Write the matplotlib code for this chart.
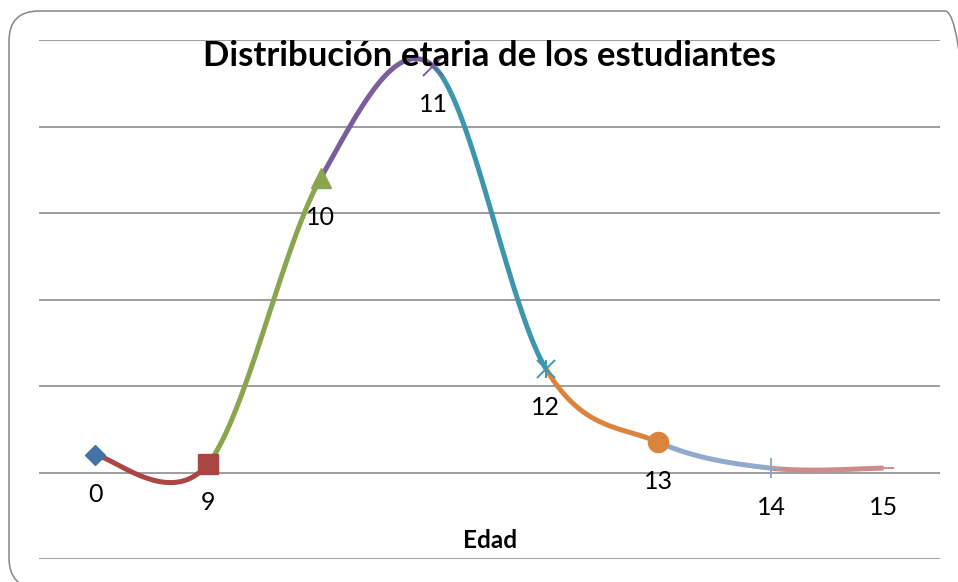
import numpy as np
import matplotlib
matplotlib.use("Agg")
import matplotlib.pyplot as plt
from matplotlib.patches import FancyBboxPatch
from matplotlib.transforms import IdentityTransform

plt.rcParams.update({"font.family": ["Lato", "DejaVu Sans"]})

# age groups and student counts
edades = ["0", "9", "10", "11", "12", "13", "14", "15"]
estudiantes = [4, 2, 68, 94, 24, 7, 1, 1]

# per-point styling ("vary colours by point"): segment into a point takes its colour
COLORS = ["#4572A7", "#AA4643", "#89A54E", "#7A5E9C", "#3D96AE", "#DB843D", "#92A8CD", "#CF8B8A"]
MARKERS = ["D", "s", "^", "x", "star", "o", "+", "_"]
GRID = "#8C8C8C"


def smooth_segments(y, n=60):
    """Cubic Bezier pieces between consecutive points (Catmull-Rom style tangents)."""
    x = np.arange(len(y), dtype=float)
    y = np.asarray(y, float)
    P = np.column_stack([x, y])
    t = np.linspace(0, 1, n)[:, None]
    segs = []
    for i in range(len(P) - 1):
        a = P[i - 1] if i > 0 else P[i]
        d = P[i + 2] if i + 2 < len(P) else P[i + 1]
        c1 = P[i] + (P[i + 1] - a) / 6.0
        c2 = P[i + 1] - (d - P[i]) / 6.0
        B = ((1 - t) ** 3) * P[i] + 3 * ((1 - t) ** 2) * t * c1 + 3 * (1 - t) * t ** 2 * c2 + t ** 3 * P[i + 1]
        segs.append(B)
    return segs


fig = plt.figure(figsize=(9.58, 5.82), dpi=100)
ax = fig.add_axes([39 / 958, 23 / 582, 901 / 958, 519 / 582])

ax.set_xlim(-0.5, len(edades) - 0.5)
ax.set_ylim(-20, 100)
for v in np.arange(-20, 101, 20):
    ax.axhline(v, color=GRID, lw=1.2, zorder=0)
for s in ax.spines.values():
    s.set_visible(False)
ax.set_xticks([]); ax.set_yticks([])

xs = np.arange(len(edades))
for i, seg in enumerate(smooth_segments(estudiantes)):
    ax.plot(seg[:, 0], seg[:, 1], color=COLORS[i + 1], lw=3.6, solid_capstyle="butt", zorder=2)

for i, (x, y) in enumerate(zip(xs, estudiantes)):
    m, c = MARKERS[i], COLORS[i]
    if m == "star":
        ax.plot(x, y, marker="x", ms=13.5, mew=1.4, color=c, zorder=3)
        ax.plot(x, y, marker="|", ms=13.5, mew=1.4, color=c, zorder=3)
    elif m in ("x", "+", "_"):
        ax.plot(x, y, marker=m, ms=14.5, mew=1.4, color=c, zorder=3)
    else:
        ms = 10.5 if m == "D" else 14.5
        ax.plot(x, y, marker=m, ms=ms, color=c, mec=c, zorder=3)
    ax.annotate(edades[i], (x, y), xytext=(0, -28), textcoords="offset points",
                ha="center", va="center", fontsize=18, color="black", zorder=4)

fig.text(489.5 / 958, 1 - 66 / 582, "Distribución etaria de los estudiantes",
         ha="center", va="baseline", fontsize=25, fontweight="bold")
fig.text(490 / 958, 1 - 548 / 582, "Edad", ha="center", va="baseline",
         fontsize=17.5, fontweight="bold")

# rounded chart border
fig.add_artist(FancyBboxPatch((9, -6), 966, 577, boxstyle="round,pad=0,rounding_size=30",
                              transform=IdentityTransform(), fc="none", ec="#868686", lw=1.1))

fig.savefig("out.png", dpi=100)
